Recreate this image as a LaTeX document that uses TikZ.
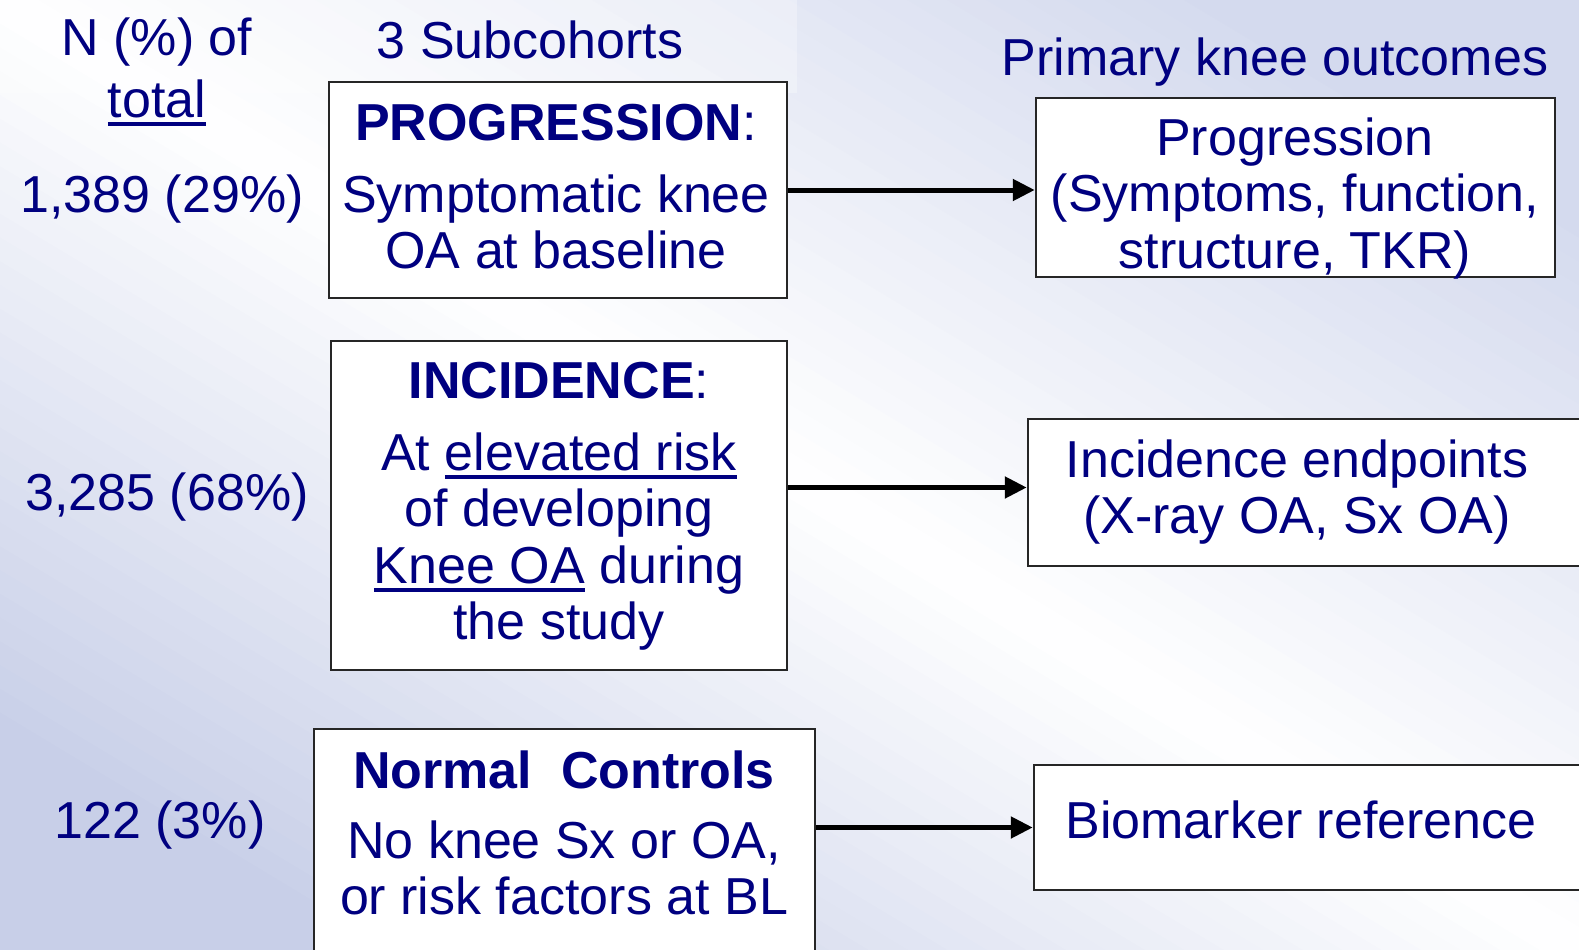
\documentclass[tikz,border=0pt]{standalone}
\usepackage{fontspec}
\setmainfont{Liberation Sans}
\usetikzlibrary{arrows.meta}
\definecolor{navy}{HTML}{000080}
\definecolor{bgA}{HTML}{C8CFE8}
\definecolor{bgB}{HTML}{D4DAEE}
\newcommand{\fs}{\rule{0pt}{45pt}}
\newcommand{\uln}[1]{\leavevmode\setbox0=\hbox{#1}\rlap{\rule[-8.5pt]{\wd0}{3.5pt}}\box0\relax}
\begin{document}
\begin{tikzpicture}[x=1pt,y=-1pt,
  txt/.style={inner sep=0pt, text=navy, font=\fontsize{52}{56.5}\selectfont, align=center, anchor=north},
  box/.style={draw=black!85, line width=2.5pt, fill=white, inner sep=0pt},
  arr/.style={line width=5pt, -{Triangle[length=22pt,width=21pt]}}]
\useasboundingbox (0,0) rectangle (1579,950);
\clip (0,0) rectangle (1579,950);
% background: diagonal gradient, bluish at bottom-left and top-right, white along the other diagonal
\foreach \i in {-40,...,39}{
  \pgfmathsetmacro\tA{\i/40}
  \pgfmathsetmacro\tB{(\i+1.1)/40}
  \pgfmathsetmacro\pc{min(100,abs((\i+0.5)/40)*130)}
  \ifnum\i<0 \def\bc{bgA}\else\def\bc{bgB}\fi
  \fill[\bc!\pc!white] ({1579*(\tA-0.2)},-190) -- ({1579*(\tA+1.2)},1140) -- ({1579*(\tB+1.2)},1140) -- ({1579*(\tB-0.2)},-190) -- cycle;
}
\fill[white, opacity=.3] (0,0) rectangle (797,93);

% headers
\node[txt] (nhead) at (157,10) {\fs N (\%) of\\[5.5pt]\uln{total}};
\node[txt] (subh) at (530,13) {\fs 3 Subcohorts};
\node[txt] (outh) at (1275,30) {\fs Primary knee outcomes};

% left column
\node[txt] (n1) at (162,167) {\fs 1,389 (29\%)};
\node[txt] (n2) at (167,465) {\fs 3,285 (68\%)};
\node[txt] (n3) at (160,793) {\fs 122 (3\%)};

% subcohort boxes
\node[box, minimum width=458pt, minimum height=216pt] (prog) at (558,190) {};
\node[txt] (progt) at (556,95) {\fs\textbf{PROGRESSION}:\\[15.5pt]Symptomatic knee\\OA at baseline};

\node[box, minimum width=456pt, minimum height=329pt] (inc) at (559,505.5) {};
\node[txt] (inct) at (559,353) {\fs\textbf{INCIDENCE}:\\[15.5pt]At \uln{elevated risk}\\of developing\\\uln{Knee OA} during\\the study};

\node[box, minimum width=501pt, minimum height=236pt] (norm) at (564.5,847) {};
\node[txt] (normt) at (564,743) {\fs\textbf{Normal~~Controls}\\[13.5pt]No knee Sx or OA,\\or risk factors at BL};

% outcome boxes
\node[box, minimum width=519pt, minimum height=179pt] (out1) at (1295.5,187.5) {};
\node[txt] (out1t) at (1295,110) {\fs Progression\\(Symptoms, function,\\structure, TKR)};

\node[box, minimum width=562pt, minimum height=147pt] (endp) at (1309,492.5) {};
\node[txt] (endpt) at (1297,432) {\fs Incidence endpoints\\(X-ray OA, Sx OA)};

\node[box, minimum width=556pt, minimum height=125pt] (bio) at (1312,827.5) {};
\node[txt] (biot) at (1301,793) {\fs Biomarker reference};

% connectors
\draw[arr] ([yshift=18pt]inc.east) -- ([yshift=18pt]inc.east -| endp.west);
\draw[arr] (prog.east) -- (prog.east -| out1.west);
\draw[arr] (norm.east |- bio.west) -- (bio.west);
\end{tikzpicture}
\end{document}
